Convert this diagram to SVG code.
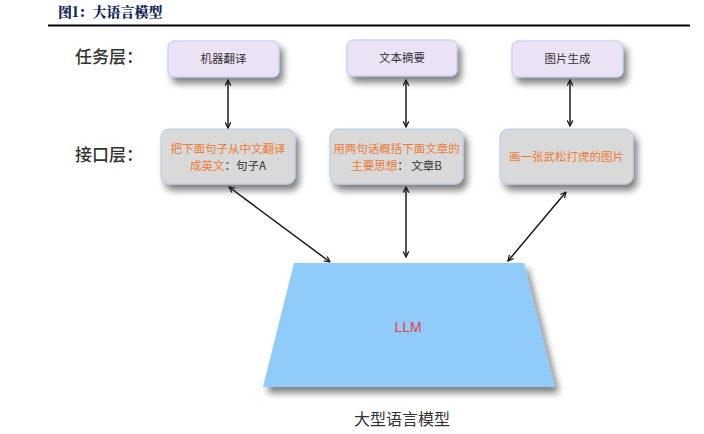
<svg xmlns="http://www.w3.org/2000/svg" width="704" height="434" viewBox="0 0 704 434">
<style>
.task rect{fill:#ECE2F5;stroke:#AFCDEB;stroke-width:1}
.intf rect{fill:#D9D9D9;stroke:#AFCDEB;stroke-width:1}
.t{font-family:"Noto Sans CJK SC","Noto Sans",sans-serif;font-size:11.5px;fill:#333;text-anchor:middle}
.o{fill:#EE7B33}
.lab{font-family:"Noto Sans CJK SC",sans-serif;font-size:17px;fill:#333;font-weight:500}
.conn line{stroke:#1a1a1a;stroke-width:1.5;marker-start:url(#ah);marker-end:url(#ah)}
</style>
<defs>
<filter id="sh" x="-20%" y="-20%" width="150%" height="170%">
<feGaussianBlur in="SourceAlpha" stdDeviation="3.5"/>
<feOffset dx="4" dy="6" result="b"/>
<feComponentTransfer><feFuncA type="linear" slope="0.5"/></feComponentTransfer>
<feMerge><feMergeNode/><feMergeNode in="SourceGraphic"/></feMerge>
</filter>
<marker id="ah" viewBox="0 0 10 10" refX="9" refY="5" markerWidth="7" markerHeight="7" orient="auto-start-reverse" markerUnits="userSpaceOnUse">
<path d="M1,1 L9,5 L1,9" fill="none" stroke="#1a1a1a" stroke-width="1.8"/>
</marker>
</defs>
<rect width="704" height="434" fill="#fff"/>
<text x="58" y="17" font-family="Noto Serif CJK SC,Noto Sans CJK SC,serif" font-size="14" font-weight="900" fill="#14285A">图1：大语言模型</text>
<line x1="48" y1="25.5" x2="690" y2="25.5" stroke="#000" stroke-width="2"/>
<text class="lab" x="75" y="63">任务层：</text>
<text class="lab" x="75" y="161">接口层：</text>
<g id="task1" class="task"><rect x="168" y="41" width="111" height="36" rx="6" filter="url(#sh)"/><text class="t" x="223.5" y="63">机器翻译</text></g>
<g id="task2" class="task"><rect x="347" y="40" width="110" height="36" rx="6" filter="url(#sh)"/><text class="t" x="402" y="62">文本摘要</text></g>
<g id="task3" class="task"><rect x="512" y="41" width="111" height="36" rx="6" filter="url(#sh)"/><text class="t" x="567.5" y="63">图片生成</text></g>
<g id="intf1" class="intf"><rect x="161" y="129" width="134" height="55" rx="8" filter="url(#sh)"/><text class="t" x="228" y="153"><tspan class="o">把下面句子从中文翻译</tspan><tspan x="228" dy="16.5"><tspan class="o">成英文</tspan>：句子A</tspan></text></g>
<g id="intf2" class="intf"><rect x="330" y="129" width="133" height="55" rx="8" filter="url(#sh)"/><text class="t" x="396.5" y="153"><tspan class="o">用两句话概括下面文章的</tspan><tspan x="396.5" dy="16.5"><tspan class="o">主要思想</tspan>： 文章B</tspan></text></g>
<g id="intf3" class="intf"><rect x="500" y="129" width="133" height="55" rx="8" filter="url(#sh)"/><text class="t o" x="566.5" y="161">画一张武松打虎的图片</text></g>
<g id="llm"><polygon points="294,263 524,263 555,387 263,387" fill="#91CBF9" filter="url(#sh)"/><text x="408" y="332" font-family="Liberation Sans,sans-serif" font-size="14" fill="#E5414D" text-anchor="middle">LLM</text></g>
<text x="402" y="425" font-family="Noto Sans CJK SC,sans-serif" font-size="16" fill="#333" text-anchor="middle">大型语言模型</text>
<g id="connectors" class="conn">
<line x1="228" y1="80" x2="228" y2="128"/>
<line x1="406" y1="80" x2="406" y2="127"/>
<line x1="570" y1="80" x2="570" y2="126"/>
<line x1="229" y1="187" x2="330" y2="262"/>
<line x1="406" y1="187" x2="406" y2="257"/>
<line x1="566" y1="192" x2="508" y2="261"/>
</g>
</svg>
